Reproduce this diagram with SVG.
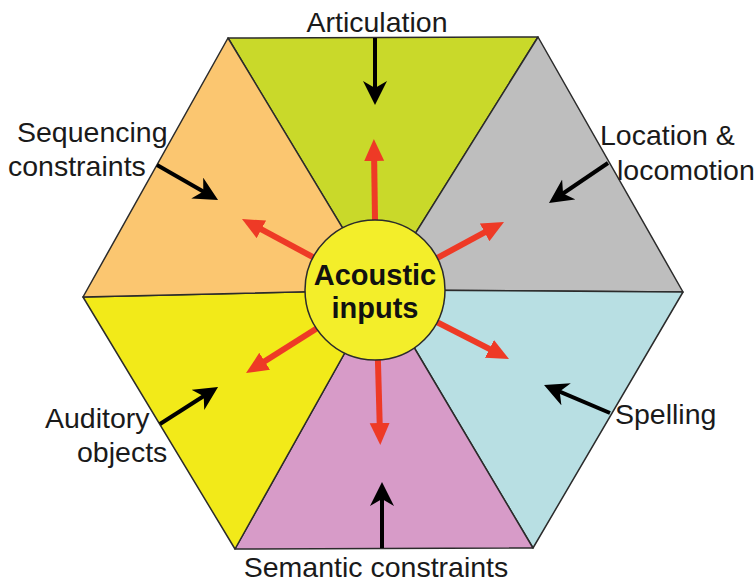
<svg xmlns="http://www.w3.org/2000/svg" width="756" height="582" viewBox="0 0 756 582">
<style>
.seg{stroke:#2b2b2b;stroke-width:1.5;stroke-linejoin:round}
.lbl{font-family:"Liberation Sans",Arial,sans-serif;font-size:28.5px;fill:#1a1a1a}
.ctr{font-family:"Liberation Sans",Arial,sans-serif;font-size:29px;font-weight:bold;fill:#111;text-anchor:middle}
.blk{stroke:#000;stroke-width:4;fill:none;marker-end:url(#blackHead)}
.red{stroke:#ee3a26;stroke-width:6;fill:none;marker-end:url(#redHead)}
</style>
<defs>
<marker id="blackHead" markerUnits="userSpaceOnUse" markerWidth="26" markerHeight="26" refX="16" refY="12" orient="auto">
<path d="M24,12 L0,0 L7,12 L0,24 Z" fill="#000"/>
</marker>
<marker id="redHead" markerUnits="userSpaceOnUse" markerWidth="24" markerHeight="22" refX="12" refY="10" orient="auto">
<path d="M0,0 L22,10 L0,20 Z" fill="#ee3a26"/>
</marker>
</defs>
<rect width="756" height="582" fill="#fff"/>
<g id="hexagon">
<polygon id="seg-articulation" class="seg" fill="#c9d92a" points="228,38 538,37 380,290"/>
<polygon id="seg-location" class="seg" fill="#bebebe" points="538,37 683,292 380,290"/>
<polygon id="seg-spelling" class="seg" fill="#b8dfe3" points="683,292 533,548 380,290"/>
<polygon id="seg-semantic" class="seg" fill="#d79bc8" points="533,548 235,549 380,290"/>
<polygon id="seg-auditory" class="seg" fill="#f2ea19" points="235,549 83,297 380,290"/>
<polygon id="seg-sequencing" class="seg" fill="#fbc670" points="83,297 228,38 380,290"/>
</g>
<g id="connectors">
<line class="red" x1="376" y1="291" x2="374" y2="149"/>
<line class="red" x1="376" y1="291" x2="380" y2="435"/>
<line class="red" x1="376" y1="291" x2="250.8" y2="223.7"/>
<line class="red" x1="376" y1="291" x2="495.2" y2="226.7"/>
<line class="red" x1="376" y1="291" x2="254.5" y2="367.7"/>
<line class="red" x1="376" y1="291" x2="500.1" y2="354.4"/>
<line class="blk" x1="375" y1="38" x2="375" y2="97"/>
<line class="blk" x1="157" y1="165" x2="211.1" y2="196"/>
<line class="blk" x1="608" y1="163" x2="555.6" y2="198.5"/>
<line class="blk" x1="160" y1="424" x2="211.3" y2="391.3"/>
<line class="blk" x1="610" y1="413" x2="551.4" y2="388.1"/>
<line class="blk" x1="382" y1="548" x2="382" y2="490"/>
</g>
<g id="acoustic-inputs">
<circle cx="375" cy="290" r="70" fill="#f3ee2a" stroke="#2b2b2b" stroke-width="1.5"/>
<text class="ctr" x="375" y="285">Acoustic</text>
<text class="ctr" x="375" y="318">inputs</text>
</g>
<g id="label-articulation"><text class="lbl" x="377" y="32" text-anchor="middle">Articulation</text></g>
<g id="label-sequencing"><text class="lbl" x="17" y="142">Sequencing</text><text class="lbl" x="8" y="176">constraints</text></g>
<g id="label-location"><text class="lbl" x="600" y="145">Location &amp;</text><text class="lbl" x="617" y="180">locomotion</text></g>
<g id="label-auditory"><text class="lbl" x="45" y="428">Auditory</text><text class="lbl" x="77" y="462">objects</text></g>
<g id="label-spelling"><text class="lbl" x="615" y="424">Spelling</text></g>
<g id="label-semantic"><text class="lbl" x="376" y="577" text-anchor="middle">Semantic constraints</text></g>
</svg>
